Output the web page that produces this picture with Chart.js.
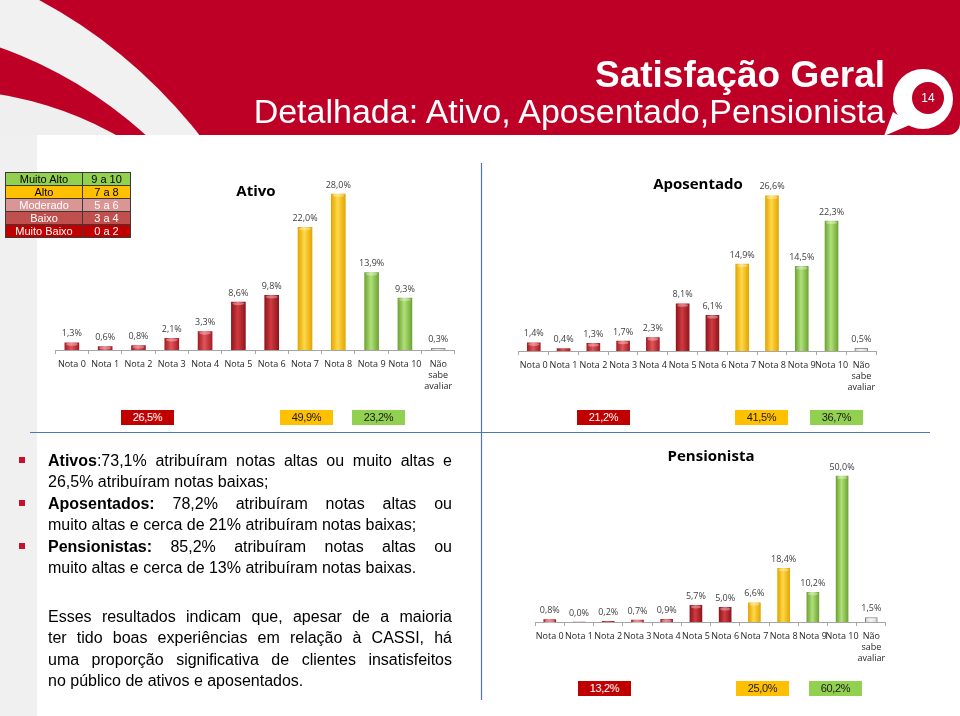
<!DOCTYPE html>
<html>
<head>
<meta charset="utf-8">
<script src="https://cdn.jsdelivr.net/npm/chart.js@4.4.1/dist/chart.umd.min.js"></script>
<style>
  body { margin: 0; width: 960px; height: 716px; position: relative; overflow: hidden; background: #fff; font-family: Arial, "Liberation Sans", sans-serif; }
  #bg { position: absolute; left: 0; top: 0; }
  .abs { position: absolute; }
  .title1 { right: 75px; top: 56px; color: #fff; font-weight: bold; font-size: 37px; line-height: 37px; white-space: nowrap; }
  .title2 { right: 75px; top: 94px; color: #fff; font-size: 34px; line-height: 34px; white-space: nowrap; }
  .pageno { left: 916px; top: 90px; width: 24px; text-align: center; color: #fff; font-size: 12px; line-height: 16px; }
  .chartTitle { font-family: "Open Sans", sans-serif; font-weight: bold; font-size: 15px; color: #000; transform: translateX(-50%); white-space: nowrap; line-height: 18px; }
  table.legend { left: 5px; top: 172px; border-collapse: collapse; font-size: 11px; }
  table.legend td { border: 1px solid #3a3a3a; height: 12px; padding: 0; line-height: 12px; text-align: center; }
  .box { height: 15px; width: 53px; font-size: 11px; line-height: 15px; text-align: center; letter-spacing: -0.3px; }
  .text { left: 48px; width: 404px; font-size: 16px; line-height: 21.4px; color: #000; }
  .text div { white-space: nowrap; }
  .text .j { text-align: justify; text-align-last: justify; }
  .item { position: relative; }
  .item::before { content: ""; position: absolute; left: -29px; top: 7px; width: 6px; height: 6px; background: #c8102e; }
  canvas.c { position: absolute; }
</style>
</head>
<body>
<canvas id="bg" width="960" height="716"></canvas>

<div class="abs title1">Satisfação Geral</div>
<div class="abs title2">Detalhada: Ativo, Aposentado,Pensionista</div>
<div class="abs pageno">14</div>

<table class="abs legend" id="legendTable"></table>

<div class="abs chartTitle" style="left:256px; top:181px;">Ativo</div>
<div class="abs chartTitle" style="left:698px; top:174px;">Aposentado</div>
<div class="abs chartTitle" style="left:711px; top:446px;">Pensionista</div>

<canvas class="c" id="ativoChart" width="404" height="235" style="left:53px; top:165px;"></canvas>
<canvas class="c" id="aposentadoChart" width="365" height="236" style="left:515px; top:165px;"></canvas>
<canvas class="c" id="pensionistaChart" width="359" height="227" style="left:531px; top:445px;"></canvas>

<div id="boxes"></div>

<div class="abs text" style="top:450px;">
  <div class="item j"><b>Ativos</b>:73,1% atribuíram notas altas ou muito altas e</div>
  <div>26,5% atribuíram notas baixas;</div>
  <div class="item j"><b>Aposentados:</b> 78,2% atribuíram notas altas ou</div>
  <div>muito altas e cerca de 21% atribuíram notas baixas;</div>
  <div class="item j"><b>Pensionistas:</b> 85,2% atribuíram notas altas ou</div>
  <div>muito altas e cerca de 13% atribuíram notas baixas.</div>
</div>

<div class="abs text" style="top:606px;">
  <div class="j">Esses resultados indicam que, apesar de a maioria</div>
  <div class="j">ter tido boas experiências em relação à CASSI, há</div>
  <div class="j">uma proporção significativa de clientes insatisfeitos</div>
  <div>no público de ativos e aposentados.</div>
</div>

<script>
const categories = ['Nota 0', 'Nota 1', 'Nota 2', 'Nota 3', 'Nota 4', 'Nota 5', 'Nota 6',
                    'Nota 7', 'Nota 8', 'Nota 9', 'Nota 10', ['Não', 'sabe', 'avaliar']];
const ativoValues = [1.3, 0.6, 0.8, 2.1, 3.3, 8.6, 9.8, 22.0, 28.0, 13.9, 9.3, 0.3];
const aposentadoValues = [1.4, 0.4, 1.3, 1.7, 2.3, 8.1, 6.1, 14.9, 26.6, 14.5, 22.3, 0.5];
const pensionistaValues = [0.8, 0.0, 0.2, 0.7, 0.9, 5.7, 5.0, 6.6, 18.4, 10.2, 50.0, 1.5];

// baixas / altas / muito altas
const ativoSummary = [26.5, 49.9, 23.2];
const aposentadoSummary = [21.2, 41.5, 36.7];
const pensionistaSummary = [13.2, 25.0, 60.2];

const legendLabels = ['Muito Alto', 'Alto', 'Moderado', 'Baixo', 'Muito Baixo'];
const legendRanges = ['9 a 10', '7 a 8', '5 a 6', '3 a 4', '0 a 2'];

const fmt = v => v.toFixed(1).replace('.', ',') + '%';

// ---- fundo / cabeçalho ----
const bg = document.getElementById('bg').getContext('2d');
bg.fillStyle = '#fff';
bg.fillRect(0, 0, 960, 716);
// faixa cinza na esquerda
bg.fillStyle = '#f0f0f0';
bg.fillRect(0, 135, 37, 581);
bg.fillStyle = '#fff';
bg.beginPath();
bg.roundRect(37, 135, 923, 570, [0, 0, 0, 22]);
bg.fill();

bg.save();
bg.beginPath();
bg.roundRect(0, 0, 960, 135, [0, 0, 12, 0]);
bg.clip();
bg.fillStyle = '#be0027';
bg.fillRect(0, 0, 960, 135);
function disc(cx, cy, r, color) {
    bg.fillStyle = color;
    bg.beginPath();
    bg.arc(cx, cy, r, 0, Math.PI * 2);
    bg.fill();
}
disc(-203, 450, 511, '#f1f1f1');
disc(-143, 451, 428, '#be0027');
disc(-57, 445, 355, '#efefef');
bg.restore();

// alfinete com número da página
bg.fillStyle = '#fff';
bg.beginPath();
bg.moveTo(893, 112);
bg.lineTo(884, 136);
bg.lineTo(912, 124);
bg.fill();
disc(923, 99, 30, '#fff');
disc(928, 98, 16, '#be0027');

// linhas divisórias
bg.strokeStyle = '#4f76b0';
bg.lineWidth = 1.2;
bg.beginPath();
bg.moveTo(30, 432.5); bg.lineTo(930, 432.5);
bg.moveTo(481.5, 163); bg.lineTo(481.5, 700);
bg.stroke();

// ---- tabela da legenda ----
const legendColors = ['#92d050', '#ffc000', '#da9694', '#c0504d', '#c00000'];
const legendText = ['#000', '#000', '#fff', '#fff', '#fff'];
const legendTable = document.getElementById('legendTable');
legendLabels.forEach((lab, i) => {
    const tr = document.createElement('tr');
    tr.innerHTML = `<td style="width:76px;background:${legendColors[i]};color:${legendText[i]}">${lab}</td>` +
                   `<td style="width:47px;background:${legendColors[i]};color:${legendText[i]}">${legendRanges[i]}</td>`;
    legendTable.appendChild(tr);
});

// ---- caixas de resumo ----
const boxStyles = [
    { bg: '#c00000', fg: '#fff' },
    { bg: '#ffc000', fg: '#1a1a1a' },
    { bg: '#92d050', fg: '#1a1a1a' }
];
function addBoxes(values, lefts, top) {
    const holder = document.getElementById('boxes');
    values.forEach((v, i) => {
        const d = document.createElement('div');
        d.className = 'abs box';
        d.style.left = lefts[i] + 'px';
        d.style.top = top + 'px';
        d.style.background = boxStyles[i].bg;
        d.style.color = boxStyles[i].fg;
        d.textContent = fmt(v);
        holder.appendChild(d);
    });
}
addBoxes(ativoSummary, [121, 280, 352], 410);
addBoxes(aposentadoSummary, [577, 735, 810], 410);
addBoxes(pensionistaSummary, [578, 736, 809], 681);

// ---- gráficos ----
function tone(i) {
    if (i <= 4) return { dark: '#a41d25', light: '#e2555a' };
    if (i <= 6) return { dark: '#8f161d', light: '#d23a41' };
    if (i <= 8) return { dark: '#e3a600', light: '#ffd84a' };
    if (i <= 10) return { dark: '#6fa434', light: '#b0e07a' };
    return { dark: '#cfcfcf', light: '#f4f4f4' };
}

function barFill(c) {
    const chart = c.chart;
    const t = tone(c.dataIndex);
    const xs = chart.scales.x;
    if (!xs || !xs.width) return t.dark;
    const cx = xs.getPixelForValue(c.dataIndex);
    const half = c.dataset.barThickness / 2;
    const g = chart.ctx.createLinearGradient(cx - half, 0, cx + half, 0);
    g.addColorStop(0, t.dark);
    g.addColorStop(0.45, t.light);
    g.addColorStop(1, t.dark);
    return g;
}

const barDecor = {
    id: 'barDecor',
    afterDatasetsDraw(chart) {
        const ctx = chart.ctx;
        const meta = chart.getDatasetMeta(0);
        const values = chart.data.datasets[0].data;
        ctx.save();
        meta.data.forEach((bar, i) => {
            if (values[i] > 0.5) {
                ctx.fillStyle = 'rgba(255,255,255,0.35)';
                ctx.beginPath();
                ctx.ellipse(bar.x, bar.y + 1.5, bar.width / 2 - 1, 1.6, 0, 0, Math.PI * 2);
                ctx.fill();
            }
        });
        ctx.font = '9px "Open Sans"';
        ctx.fillStyle = '#404040';
        ctx.textAlign = 'center';
        ctx.textBaseline = 'middle';
        meta.data.forEach((bar, i) => {
            ctx.fillText(fmt(values[i]), bar.x, bar.y - 9);
        });
        ctx.restore();
    }
};

function makeChart(id, values, yMax, thickness) {
    return new Chart(document.getElementById(id), {
        type: 'bar',
        data: {
            labels: categories,
            datasets: [{
                data: values,
                backgroundColor: barFill,
                borderColor: '#7f7f7f',
                borderWidth: c => (c.dataIndex === 11 ? 1 : 0),
                borderSkipped: 'bottom',
                barThickness: thickness
            }]
        },
        options: {
            responsive: false,
            animation: false,
            layout: { padding: 0 },
            plugins: {
                legend: { display: false },
                tooltip: { enabled: false }
            },
            scales: {
                x: {
                    grid: { display: true, drawOnChartArea: false, tickLength: 4, color: '#a6a6a6', offset: true },
                    border: { color: '#a6a6a6' },
                    ticks: {
                        color: '#262626',
                        font: { family: 'Open Sans', size: 9 },
                        padding: 5,
                        maxRotation: 0,
                        autoSkip: false
                    },
                    afterFit: s => { s.height = 50; }
                },
                y: { display: false, min: 0, max: yMax }
            }
        },
        plugins: [barDecor]
    });
}

makeChart('ativoChart', ativoValues, 33.2, 14);
makeChart('aposentadoChart', aposentadoValues, 31.9, 13);
makeChart('pensionistaChart', pensionistaValues, 60.6, 12);
</script>
</body>
</html>
